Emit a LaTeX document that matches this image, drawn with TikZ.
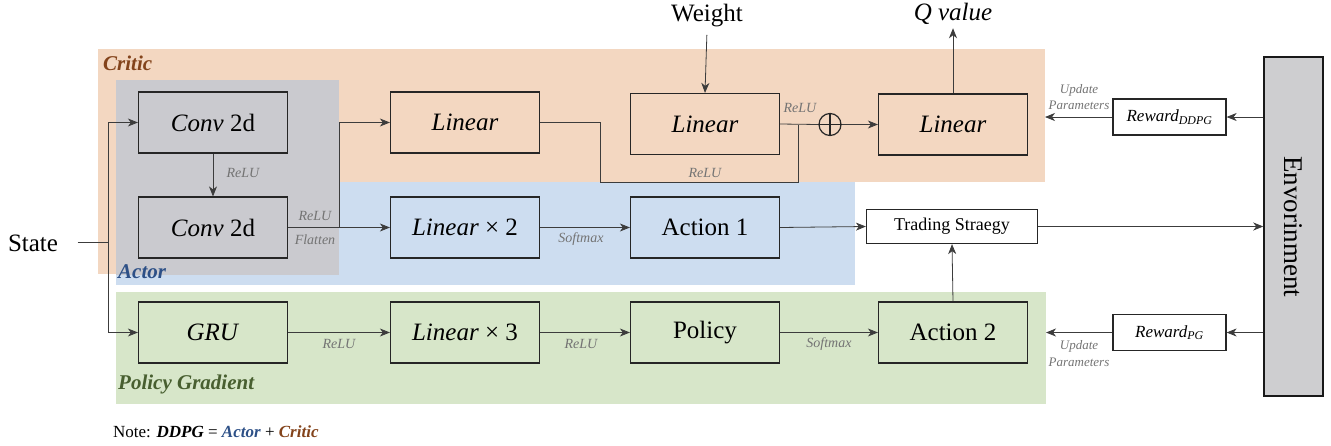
\documentclass[tikz,border=0pt]{standalone}
\usepackage{fontspec}
\setmainfont{Liberation Serif}
\usetikzlibrary{arrows.meta}
\definecolor{critbg}{RGB}{243,215,193}
\definecolor{actbg}{RGB}{205,221,240}
\definecolor{pgbg}{RGB}{215,230,201}
\definecolor{convbg}{RGB}{202,202,207}
\definecolor{envbg}{RGB}{206,206,208}
\definecolor{critc}{RGB}{131,67,27}
\definecolor{actc}{RGB}{45,80,135}
\definecolor{pgc}{RGB}{72,95,48}
\definecolor{lnc}{RGB}{60,60,60}
\begin{document}
\begin{tikzpicture}[x=1pt,y=-1pt,
  blk/.style={draw=black!85, line width=1.2pt, minimum width=149pt, minimum height=61pt, inner sep=0pt, font=\fontsize{25}{28}\selectfont},
  tbox/.style={draw=black!85, fill=white, line width=1.2pt, inner sep=0pt},
  conn/.style={line width=0.8pt, draw=lnc},
  arr/.style={conn, -{Stealth[length=10pt,width=8pt,inset=3pt]}},
  lbl/.style={font=\fontsize{14}{16}\selectfont\itshape, text=black!55, inner sep=0pt},
  upd/.style={font=\fontsize{13}{15}\selectfont\itshape, text=black!55, inner sep=0pt},
  region/.style={font=\fontsize{21}{24}\selectfont\bfseries\itshape, anchor=west, inner sep=0pt}]
\useasboundingbox (0,0) rectangle (1331,445);
% regions
\fill[critbg] (98,49) rectangle (1045,182);
\fill[critbg] (98,49) rectangle (339,274);
\fill[actbg] (116,182) rectangle (855,285);
\fill[pgbg] (116,292) rectangle (1046,404);
\fill[convbg] (116,80) rectangle (339,275);
\node[region, text=critc] (critl) at (103,63) {Critic};
\node[region, text=actc] (actl) at (118,272) {Actor};
\node[region, text=pgc] (pgl) at (118,384) {Policy Gradient};
% blocks
\node[blk] (c1) at (213,122.5) {\textit{Conv} 2d};
\node[blk] (c2) at (213,227.5) {\textit{Conv} 2d};
\node[blk] (l1) at (465,122.5) {\textit{Linear}};
\node[blk] (l2) at (465,227.5) {\textit{Linear} × 2};
\node[blk] (lw) at (705,124) {\textit{Linear}};
\node[blk] (lq) at (953,124.5) {\textit{Linear}};
\node[blk] (a1) at (705,227.5) {Action 1};
\node[blk] (gru) at (213,332.5) {\textit{GRU}};
\node[blk] (l3) at (465,332.5) {\textit{Linear} × 3};
\node[blk] (pol) at (705,332.5) {Policy};
\node[blk] (a2) at (953,332.5) {Action 2};
\node[draw=black!85, circle, minimum size=22pt, inner sep=0pt, line width=1.2pt] (plus) at (830,124.5) {};
\draw[line width=1.2pt, black!85] (plus.north) -- (plus.south) (plus.west) -- (plus.east);
\node[tbox, minimum width=171pt, minimum height=34pt, font=\fontsize{18}{20}\selectfont] (ts) at (952,226.5) {Trading Straegy};
\node[tbox, minimum width=113pt, minimum height=36pt, font=\fontsize{17}{19}\selectfont] (rd) at (1169.5,117) {\textit{Reward}\textsubscript{\textit{DDPG}}};
\node[tbox, minimum width=113pt, minimum height=36pt, font=\fontsize{17}{19}\selectfont] (rp) at (1169.5,332.5) {\textit{Reward}\textsubscript{\textit{PG}}};
\node[draw=black!90, fill=envbg, line width=1.5pt, minimum width=59pt, minimum height=339pt, inner sep=0pt] (env) at (1293.5,226.5) {};
\node[rotate=-90, font=\fontsize{27}{30}\selectfont] (envt) at (env.center) {Envorinment};
% texts
\node[font=\fontsize{25}{28}\selectfont] (state) at (33,243) {State};
\node[font=\fontsize{25}{28}\selectfont] (weight) at (707,16) {Weight};
\node[font=\fontsize{25}{28}\selectfont\itshape] (qv) at (953,14) {Q value};
% coordinates
\coordinate (sj) at (108,242);
\coordinate (sv1) at (108,122.5);
\coordinate (sv2) at (108,332.5);
\coordinate (br) at (339,227.5);
\coordinate (r1) at (600,122.5);
\coordinate (r2) at (600,182);
\coordinate (r3) at (798,182);
\coordinate (r4) at (798,124.5);
\coordinate (ud) at (1045,117);
\coordinate (up) at (1046,332.5);
% connectors
\draw[conn, shorten <=16pt] (state.east |- sj) -- (sj);
\draw[conn] (sv1) -- (sv2);
\draw[arr] (sv1) -- (c1.west);
\draw[arr] (sv2) -- (gru.west);
\draw[arr] (c1.south) -- (c2.north);
\draw[arr] (c2.east) -- (l2.west);
\draw[arr] (br) |- (l1.west);
\draw[conn] (l1.east) -- (r1) -- (r2) -- (r3) -- (r4);
\draw[conn] (lw.east) -- (plus.west);
\draw[arr] (plus.east) -- (lq.west);
\draw[arr, shorten <=4pt] (weight.south) -- (lw.north);
\draw[arr] (lq.north) -- (qv.south);
\draw[arr] (l2.east) -- (a1.west);
\draw[arr] (a1.east) -- (ts.west);
\draw[arr] (ts.east) -- (ts.east -| env.west);
\draw[arr] (rd.east -| env.west) -- (rd.east);
\draw[arr] (rd.west) -- (ud);
\draw[arr] (rp.east -| env.west) -- (rp.east);
\draw[arr] (rp.west) -- (up);
\draw[arr] (gru.east) -- (l3.west);
\draw[arr] (l3.east) -- (pol.west);
\draw[arr] (pol.east) -- (a2.west);
\draw[arr] (a2.north) -- (ts.south);
% labels
\node[lbl] (lb1) at (243,173) {ReLU};
\node[lbl] (lb2) at (315,216) {ReLU};
\node[lbl] (lb3) at (315,240) {Flatten};
\node[lbl] (lb4) at (705,173) {ReLU};
\node[lbl] (lb5) at (800,108) {ReLU};
\node[lbl] (lb6) at (581,239) {Softmax};
\node[lbl] (lb7) at (339,344) {ReLU};
\node[lbl] (lb8) at (581,344) {ReLU};
\node[lbl] (lb9) at (829,344) {Softmax};
\node[upd] (u1) at (1079,90) {Update};
\node[upd] (u2) at (1079,105) {Parameters};
\node[upd] (u3) at (1079,346) {Update};
\node[upd] (u4) at (1079,362) {Parameters};
\node[anchor=west, font=\fontsize{17}{19}\selectfont, inner sep=0pt] (note) at (113,432) {Note: \textbf{\textit{DDPG}} = \textcolor{actc}{\textbf{\textit{Actor}}} + \textcolor{critc}{\textbf{\textit{Critic}}}};
\end{tikzpicture}
\end{document}
